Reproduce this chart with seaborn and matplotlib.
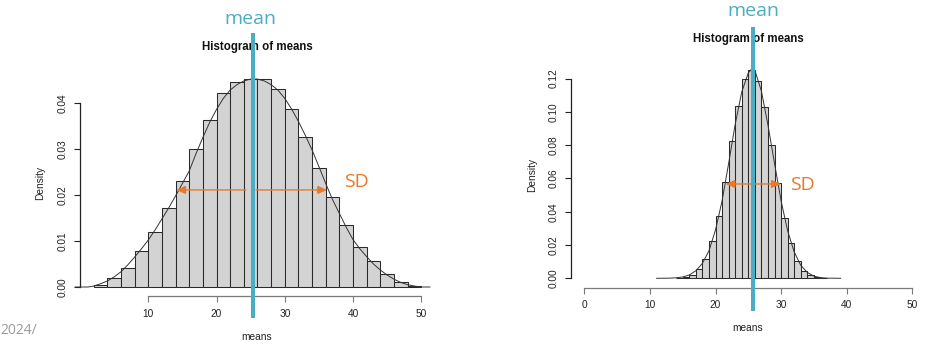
import matplotlib
matplotlib.use("Agg")
import matplotlib.pyplot as plt
import seaborn as sns

# ---- data -------------------------------------------------------------
# wide sampling distribution (bin width 2)
left_edges = list(range(2, 52, 2))
left_density = [0.0005, 0.0020, 0.0042, 0.0079, 0.0120, 0.0171, 0.0230, 0.0299,
                0.0362, 0.0422, 0.0446, 0.0453, 0.0453, 0.0430, 0.0388, 0.0325,
                0.0258, 0.0195, 0.0135, 0.0088, 0.0056, 0.0028, 0.0010, 0.0003]
left_curve_x = [-0.7, 1.2, 2, 3, 4, 5, 6, 7, 8, 9, 10, 11, 12, 13, 14, 15, 16, 17,
                18, 19, 20, 21, 22, 23, 24, 25, 26, 27, 28, 29, 30, 31, 32, 33, 34,
                35, 36, 37, 38, 39, 40, 41, 42, 43, 44, 45, 46, 47, 48, 49, 50, 51.3]
left_curve_y = [0, 0, 0.0002, 0.0007, 0.0013, 0.0022, 0.0033, 0.0048, 0.0065, 0.0083,
                0.0102, 0.0124, 0.0148, 0.0172, 0.0198, 0.0225, 0.0252, 0.0290,
                0.0325, 0.0358, 0.0386, 0.0410, 0.0428, 0.0440, 0.0448, 0.0452,
                0.0452, 0.0448, 0.0440, 0.0428, 0.0410, 0.0387, 0.0360, 0.0330,
                0.0298, 0.0262, 0.0225, 0.0190, 0.0160, 0.0130, 0.0103, 0.0083,
                0.0066, 0.0050, 0.0037, 0.0026, 0.0017, 0.0010, 0.0005, 0.0002, 0, 0]
left_mean = 25.4
left_sd_lo, left_sd_hi, left_sd_level = 14.1, 36.2, 0.0211
left_xticks = [10, 20, 30, 40, 50]
left_yticks = [0.00, 0.01, 0.02, 0.03, 0.04]

# narrow sampling distribution (bin width 1)
right_edges = list(range(14, 38))
right_density = [0.0002, 0.0006, 0.0020, 0.0055, 0.0116, 0.0224, 0.0375, 0.0580,
                 0.0823, 0.1034, 0.1197, 0.1253, 0.1187, 0.1028, 0.0800, 0.0574,
                 0.0364, 0.0211, 0.0107, 0.0045, 0.0017, 0.0006, 0.0002]
right_curve_x = [11, 13, 14, 15, 16, 17, 18, 19, 20, 21, 22, 23, 24, 25, 25.6, 26,
                 27, 28, 29, 30, 31, 32, 33, 34, 35, 36, 37, 39.1]
right_curve_y = [0, 0.0001, 0.0003, 0.0008, 0.0020, 0.0045, 0.0090, 0.0165, 0.0290,
                 0.0465, 0.0690, 0.0925, 0.1120, 0.1235, 0.1262, 0.1250, 0.1125,
                 0.0920, 0.0690, 0.0465, 0.0285, 0.0158, 0.0078, 0.0035, 0.0013,
                 0.0004, 0.0001, 0]
right_mean = 25.72
right_sd_lo, right_sd_hi, right_sd_level = 21.55, 29.95, 0.0567
right_xticks = [0, 10, 20, 30, 40, 50]
right_yticks = [0.00, 0.02, 0.04, 0.06, 0.08, 0.10, 0.12]

# ---- style ------------------------------------------------------------
sns.set_theme(style="ticks")
plt.rcParams["font.family"] = ["Liberation Sans", "DejaVu Sans"]

BLUE = "#4BACC6"
ORANGE = "#E8792B"
TEXT = "#222222"
ANNOT_FONT = ["Open Sans", "DejaVu Sans"]

W, H = 938, 347
fig = plt.figure(figsize=(W / 100, H / 100), dpi=100)
fig.patch.set_facecolor("white")


def make_panel(px0, px1, x0_px, x_scale, y0_px, y_scale):
    ax = fig.add_axes([px0 / W, 0, (px1 - px0) / W, 1])
    ax.set_xlim((px0 - x0_px) / x_scale, (px1 - x0_px) / x_scale)
    ax.set_ylim((y0_px - H) / y_scale, y0_px / y_scale)
    ax.patch.set_alpha(0)
    return ax


def frac(ax_px0, ax_px1, px, py):
    return (px - ax_px0) / (ax_px1 - ax_px0), 1 - py / H


def draw_panel(ax, box, edges, density, cx, cy, xticks, yticks,
               yaxis_x, xaxis_y, mean_x, mean_span, sd, sd_split,
               title_px, mean_px, sd_px, xlabel_px, ylabel_px):
    mids = [(a + b) / 2 for a, b in zip(edges[:-1], edges[1:])]
    sns.histplot(x=mids, weights=density, bins=edges, stat="count",
                 color="#D3D3D3", edgecolor="#2a2a2a", linewidth=0.75,
                 alpha=1, ax=ax, zorder=2)
    sns.lineplot(x=cx, y=cy, color="#333333", linewidth=0.7, estimator=None,
                 sort=False, ax=ax, zorder=3)

    # R-style detached axes
    for s in ("top", "right"):
        ax.spines[s].set_visible(False)
    ax.spines["left"].set_position(("data", yaxis_x))
    ax.spines["left"].set_bounds(yticks[0], yticks[-1])
    ax.spines["left"].set_color("#222222")
    ax.spines["bottom"].set_position(("data", xaxis_y))
    ax.spines["bottom"].set_bounds(xticks[0], xticks[-1])
    ax.spines["bottom"].set_color("#7a7a7a")
    for s in ("left", "bottom"):
        ax.spines[s].set_linewidth(0.9)
    ax.set_xticks(xticks)
    ax.set_xticklabels([str(t) for t in xticks])
    ax.set_yticks(yticks)
    ax.set_yticklabels([f"{t:.2f}" for t in yticks])
    ax.tick_params(axis="both", direction="out", length=4, width=0.8,
                   labelsize=7.3, labelcolor=TEXT, pad=5,
                   bottom=True, left=True, top=False, right=False)
    ax.tick_params(axis="x", color="#7a7a7a")
    ax.tick_params(axis="y", color="#222222")
    for lab in ax.get_yticklabels():
        lab.set_rotation(90)
        lab.set_va("center")
        lab.set_ha("right")
    ax.set_xlabel("")
    ax.set_ylabel("")
    ax.grid(False)

    px0, px1 = box
    fx, fy = frac(px0, px1, *xlabel_px)
    ax.text(fx, fy, "means", transform=ax.transAxes, ha="center", va="center",
            fontsize=7.3, color=TEXT)
    fx, fy = frac(px0, px1, *ylabel_px)
    ax.text(fx, fy, "Density", transform=ax.transAxes, ha="center", va="center",
            rotation=90, fontsize=7.3, color=TEXT)
    fx, fy = frac(px0, px1, *title_px)
    ax.text(fx, fy, "Histogram of means", transform=ax.transAxes, ha="center",
            va="center", fontsize=8.3, fontweight="bold", color="#111111",
            zorder=4)

    # mean marker
    ax.plot([mean_x, mean_x], mean_span, color=BLUE, linewidth=2.9,
            solid_capstyle="butt", zorder=6, clip_on=False)
    fx, fy = frac(px0, px1, *mean_px)
    ax.text(fx, fy, "mean", transform=ax.transAxes, ha="center", va="center",
            fontsize=14, color=BLUE, family=ANNOT_FONT)

    # standard deviation arrows
    lo, hi, lvl = sd
    head = dict(color=ORANGE, lw=1.0, shrinkA=0, shrinkB=0)
    one_way = "-|>,head_length=0.45,head_width=0.2"
    two_way = "<|-|>,head_length=0.45,head_width=0.2"
    if sd_split is None:
        ax.annotate("", xy=(hi, lvl), xytext=(lo, lvl),
                    arrowprops=dict(arrowstyle=two_way, **head), zorder=5)
    else:
        a, b = sd_split
        ax.annotate("", xy=(lo, lvl), xytext=(a, lvl),
                    arrowprops=dict(arrowstyle=one_way, **head), zorder=5)
        ax.annotate("", xy=(hi, lvl), xytext=(b, lvl),
                    arrowprops=dict(arrowstyle=one_way, **head), zorder=5)
    fx, fy = frac(px0, px1, *sd_px)
    ax.text(fx, fy, "SD", transform=ax.transAxes, ha="center", va="center",
            fontsize=14, color=ORANGE, family=ANNOT_FONT)


# left panel: x=0 at px 80 (6.825 px/unit), density 0 at row 287 (4600 px/unit)
ax1 = make_panel(0, 469, 80, 6.825, 287, 4600)
draw_panel(ax1, (0, 469), left_edges, left_density, left_curve_x, left_curve_y,
           left_xticks, left_yticks, yaxis_x=0, xaxis_y=-0.00196,
           mean_x=left_mean, mean_span=(0.0552, -0.0067),
           sd=(left_sd_lo, left_sd_hi, left_sd_level), sd_split=(24.3, 25.8),
           title_px=(257, 47), mean_px=(250, 19), sd_px=(356, 182),
           xlabel_px=(257, 337), ylabel_px=(40, 183))

# right panel: x=0 at px 584.3 (6.56 px/unit), density 0 at row 278.3 (1663.5 px/unit)
ax2 = make_panel(470, 938, 584.3, 6.56, 278.3, 1663.5)
draw_panel(ax2, (470, 938), right_edges, right_density, right_curve_x, right_curve_y,
           right_xticks, right_yticks, yaxis_x=-2.03, xaxis_y=-0.00565,
           mean_x=right_mean, mean_span=(0.1511, -0.0197),
           sd=(right_sd_lo, right_sd_hi, right_sd_level), sd_split=None,
           title_px=(748, 39), mean_px=(753, 11), sd_px=(802, 185),
           xlabel_px=(748, 328), ylabel_px=(532, 175))

fig.text(0, 1 - 330 / H, "2024/", ha="left", va="center", fontsize=10,
         color="#9a9a9a", family=ANNOT_FONT)

fig.savefig("out.png", dpi=100, facecolor="white")
